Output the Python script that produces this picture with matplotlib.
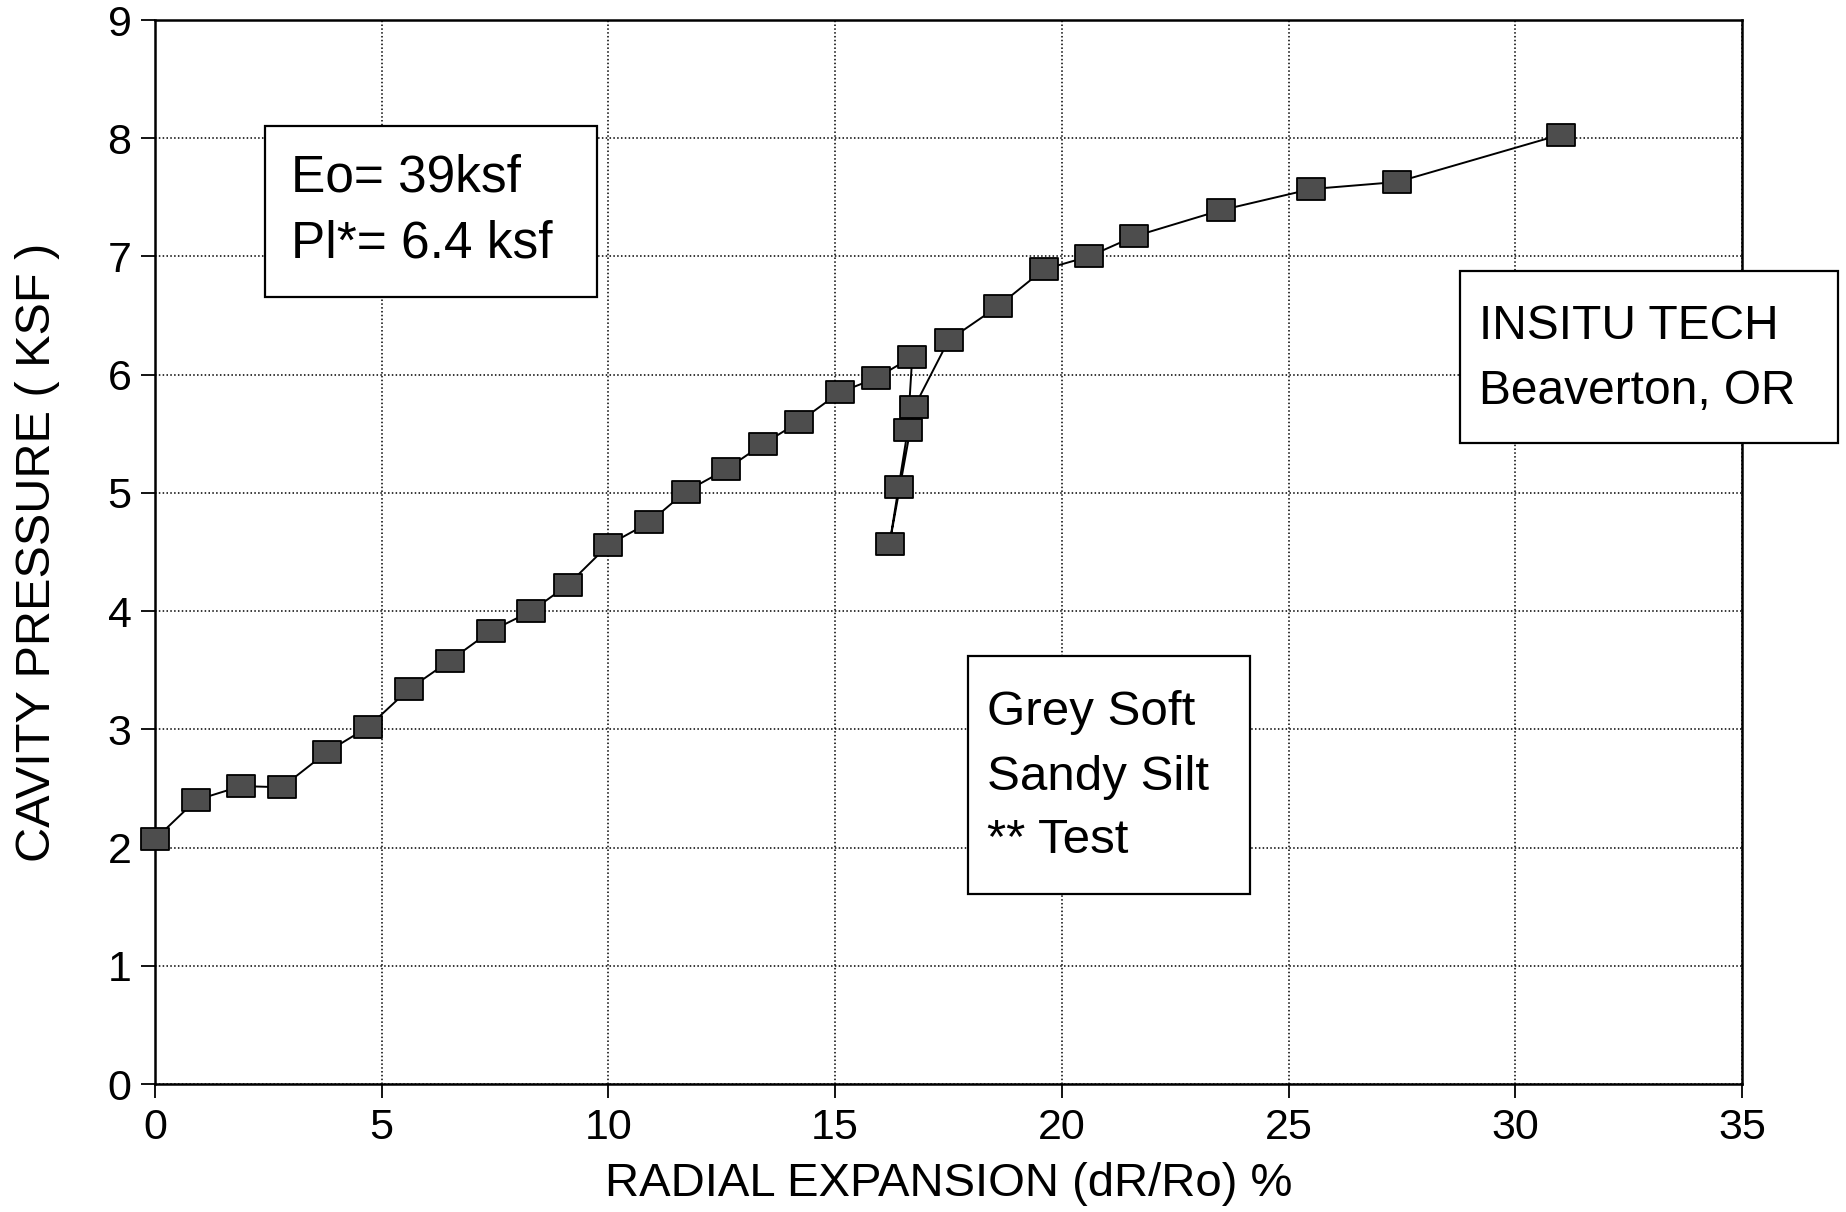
import matplotlib.pyplot as plt
from matplotlib.patches import Rectangle
from matplotlib.path import Path

plt.rcParams['font.family'] = ['Liberation Sans', 'DejaVu Sans']

# Pressuremeter test: radial expansion (%) vs cavity pressure (ksf)
expansion = [0.0, 0.9, 1.9, 2.8, 3.8, 4.7, 5.6, 6.5, 7.4, 8.3, 9.1, 10.0, 10.9,
             11.7, 12.6, 13.4, 14.2, 15.1, 15.9, 16.7,
             16.6, 16.4, 16.2, 16.75,
             17.5, 18.6, 19.6, 20.6, 21.6, 23.5, 25.5, 27.4, 31.0]
pressure = [2.07, 2.4, 2.52, 2.51, 2.81, 3.02, 3.34, 3.58, 3.83, 4.0, 4.22, 4.56, 4.75,
            5.01, 5.2, 5.41, 5.6, 5.85, 5.97, 6.15,
            5.53, 5.05, 4.57, 5.73,
            6.29, 6.58, 6.89, 7.0, 7.17, 7.39, 7.57, 7.63, 8.03]

x_ticks = [0, 5, 10, 15, 20, 25, 30, 35]
y_ticks = [0, 1, 2, 3, 4, 5, 6, 7, 8, 9]

W, H = 1846, 1212
fig = plt.figure(figsize=(W / 100, H / 100), dpi=100)
left, right, top, bottom = 155, 1742, 20, 1084
ax = fig.add_axes([left / W, 1 - bottom / H, (right - left) / W, (bottom - top) / H])

# wide square marker
box = Path([(-1, -0.8), (1, -0.8), (1, 0.8), (-1, 0.8), (-1, -0.8)],
           [Path.MOVETO, Path.LINETO, Path.LINETO, Path.LINETO, Path.CLOSEPOLY])
ax.plot(expansion, pressure, color='black', lw=1.4, marker=box, ms=20,
        mfc='#4d4d4d', mec='black', mew=1.3, zorder=3, clip_on=False)

ax.set_xlim(0, 35)
ax.set_ylim(0, 9)
ax.set_xticks(x_ticks)
ax.set_yticks(y_ticks)
ax.tick_params(labelsize=31, length=10, width=1.3, pad=7, color='black')
ax.grid(True, linestyle=(0, (1, 1.5)), color='black', lw=1.1)
for s in ax.spines.values():
    s.set_linewidth(1.8)

ax.set_xlabel('RADIAL EXPANSION (dR/Ro) %', fontsize=34, va='center')
ax.xaxis.set_label_coords(0.5, -0.094)
ax.set_ylabel('CAVITY PRESSURE ( KSF )', fontsize=35, va='center')
ax.yaxis.set_label_coords(-0.074, 0.5)


def note(x0, y0, x1, y1, tx, lines, size):
    fig.add_artist(Rectangle((x0 / W, 1 - y1 / H), (x1 - x0) / W, (y1 - y0) / H,
                             transform=fig.transFigure, fc='white', ec='black',
                             lw=1.6, zorder=5))
    for text, base in lines:
        fig.text(tx / W, 1 - base / H, text, fontsize=size, va='baseline',
                 ha='left', zorder=6)


note(265, 126, 597, 297, 291, [('Eo= 39ksf', 191), ('Pl*= 6.4 ksf', 258)], 37)
note(1460, 271, 1838, 443, 1479, [('INSITU TECH', 339), ('Beaverton, OR', 404)], 34.5)
note(968, 656, 1250, 894, 987, [('Grey Soft', 725), ('Sandy Silt', 790),
                                ('** Test', 853)], 35.5)

fig.savefig('out.png', dpi=100)
